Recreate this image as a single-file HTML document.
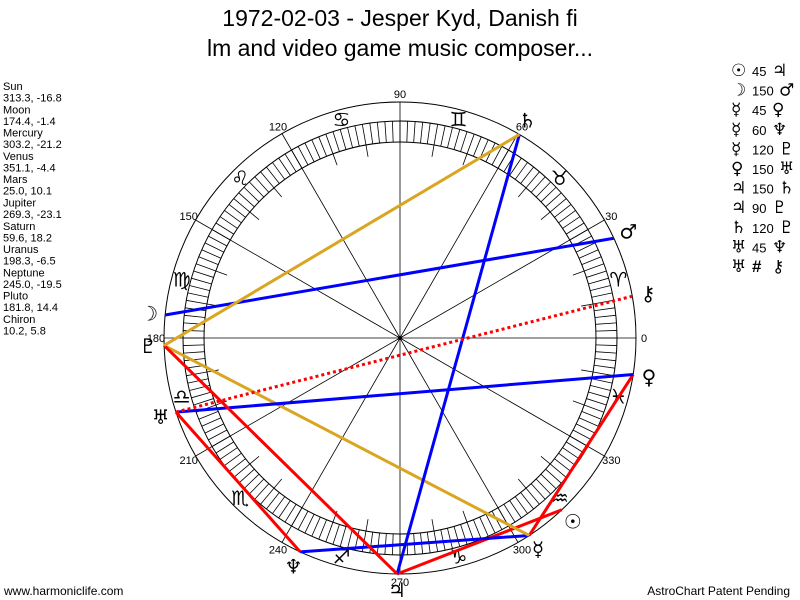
<!DOCTYPE html>
<html><head><meta charset="utf-8"><style>
body{margin:0;background:#fff;}
svg{display:block;font-family:"Liberation Sans","DejaVu Sans",sans-serif;}
</style></head><body>
<svg id="chart" width="800" height="600" viewBox="0 0 800 600" xmlns="http://www.w3.org/2000/svg">
<rect width="800" height="600" fill="#fff"/>
<text x="400" y="26" text-anchor="middle" font-size="23">1972-02-03 - Jesper Kyd, Danish fi</text>
<text x="400" y="56" text-anchor="middle" font-size="23">lm and video game music composer...</text>
<text x="4" y="595" font-size="12">www.harmoniclife.com</text>
<text x="790" y="595" text-anchor="end" font-size="12">AstroChart Patent Pending</text>
<g id="left-list"></g>
<g id="right-list"></g>
<g id="wheel"></g>
</svg>
<script>
const planetNames = ["Sun","Moon","Mercury","Venus","Mars","Jupiter","Saturn","Uranus","Neptune","Pluto","Chiron"];
const planetGlyphs = ["☉","☽","☿","♀","♂","♃","♄","♅","♆","♇","⚷"];
const planetLon = [313.3,174.4,303.2,351.1,25.0,269.3,59.6,198.3,245.0,181.8,10.2];
const planetLat = [-16.8,-1.4,-21.2,-4.4,10.1,-23.1,18.2,-6.5,-19.5,14.4,5.8];
const aspectFrom = [0,1,2,2,2,3,5,5,6,7,7];
const aspectTo = [5,4,3,8,9,7,6,9,9,8,10];
const aspectType = ["45","150","45","60","120","150","150","90","120","45","#"];
const signGlyphs = ["♈","♉","♊","♋","♌","♍","♎","♏","♐","♑","♒","♓"];
const degreeLabels = ["0","30","60","90","120","150","180","210","240","270","300","330"];

const NS="http://www.w3.org/2000/svg";
const CX=400, CY=338, R=236, RO=217, RI=196;
function px(a,r){return CX+r*Math.cos(a*Math.PI/180);}
function py(a,r){return CY-r*Math.sin(a*Math.PI/180);}
function mk(tag,attrs,parent){const e=document.createElementNS(NS,tag);for(const k in attrs)e.setAttribute(k,attrs[k]);parent.appendChild(e);return e;}
const W=document.getElementById('wheel');
let c;
c=mk('circle',{cx:CX,cy:CY,r:R,fill:'none',stroke:'#000','stroke-width':1},W);


c=mk('circle',{cx:CX,cy:CY,r:RO,fill:'none',stroke:'#000','stroke-width':1},W);


c=mk('circle',{cx:CX,cy:CY,r:RI,fill:'none',stroke:'#000','stroke-width':1},W);


for(let d=0;d<360;d+=2){
  const l=mk('line',{x1:px(d,RI),y1:py(d,RI),x2:px(d,RO),y2:py(d,RO),stroke:'#000','stroke-width':0.8},W);
  
  
}
for(let d=0;d<360;d+=10){
  if(d%30===0){
    const l=mk('line',{x1:CX,y1:CY,x2:px(d,R),y2:py(d,R),stroke:'#000','stroke-width':0.8},W);
    
    
  } else {
    const l=mk('line',{x1:px(d,RI-12),y1:py(d,RI-12),x2:px(d,RI),y2:py(d,RI),stroke:'#000','stroke-width':0.8},W);
    
    
  }
}
c=mk('circle',{cx:CX,cy:CY,r:2,fill:'#000'},W);


signGlyphs.forEach((g,i)=>{
  const a=i*30+15;
  const t=mk('text',{x:px(a,226),y:py(a,226)+7,'text-anchor':'middle','font-size':20,'font-family':'DejaVu Sans,sans-serif'},W);
  t.textContent=g;
  
  
});
degreeLabels.forEach((g,i)=>{
  const a=i*30;
  const t=mk('text',{x:px(a,244),y:py(a,244)+4,'text-anchor':'middle','font-size':11,fill:'#000'},W);
  t.textContent=g;
  
  
});
function aspColor(t){return (t==="45"||t==="90"||t==="#")?'#ff0000':(t==="120"?'#daa520':'#0000ff');}
aspectFrom.forEach((f,i)=>{
  const a=planetLon[f], b=planetLon[aspectTo[i]], t=aspectType[i];
  const attrs={x1:px(a,R),y1:py(a,R),x2:px(b,R),y2:py(b,R),stroke:aspColor(t),'stroke-width':3};
  if(t==="#")attrs['stroke-dasharray']='3,3';
  const l=mk('line',attrs,W);
  
  
});
planetGlyphs.forEach((g,i)=>{
  const a=planetLon[i];
  const t=mk('text',{x:px(a,252),y:py(a,252)+7,'text-anchor':'middle','font-size':20,'font-family':'DejaVu Sans,sans-serif'},W);
  t.textContent=g;
  
  
});
const L=document.getElementById('left-list');
planetNames.forEach((n,i)=>{
  const t1=mk('text',{x:3,y:90+i*23.3,'font-size':11},L);
  t1.textContent=n;
  
  
  const t2=mk('text',{x:3,y:101.5+i*23.3,'font-size':11},L);
  t2.textContent=planetLon[i].toFixed(1)+', '+planetLat[i].toFixed(1);
  
  
});
const RL=document.getElementById('right-list');
aspectFrom.forEach((f,i)=>{
  const y=76+i*19.6;
  const t=mk('text',{x:731,y:y,'font-size':17,'font-family':'DejaVu Sans,sans-serif'},RL);
  t.textContent=planetGlyphs[f];
  
  
  const t2=mk('text',{x:752,y:y,'font-size':13},RL);
  t2.textContent=aspectType[i]==="#"?"":aspectType[i];
  
  
  if(aspectType[i]==="#"){
    const t3=mk('text',{x:752,y:y,'font-size':17,'font-weight':'bold'},RL);
    t3.textContent="#";
    
    
  }
  const t4=mk('text',{x:aspectType[i].length===3?779:772,y:y,'font-size':17,'font-family':'DejaVu Sans,sans-serif'},RL);
  t4.textContent=planetGlyphs[aspectTo[i]];
  
  
});
</script>
</body></html>
